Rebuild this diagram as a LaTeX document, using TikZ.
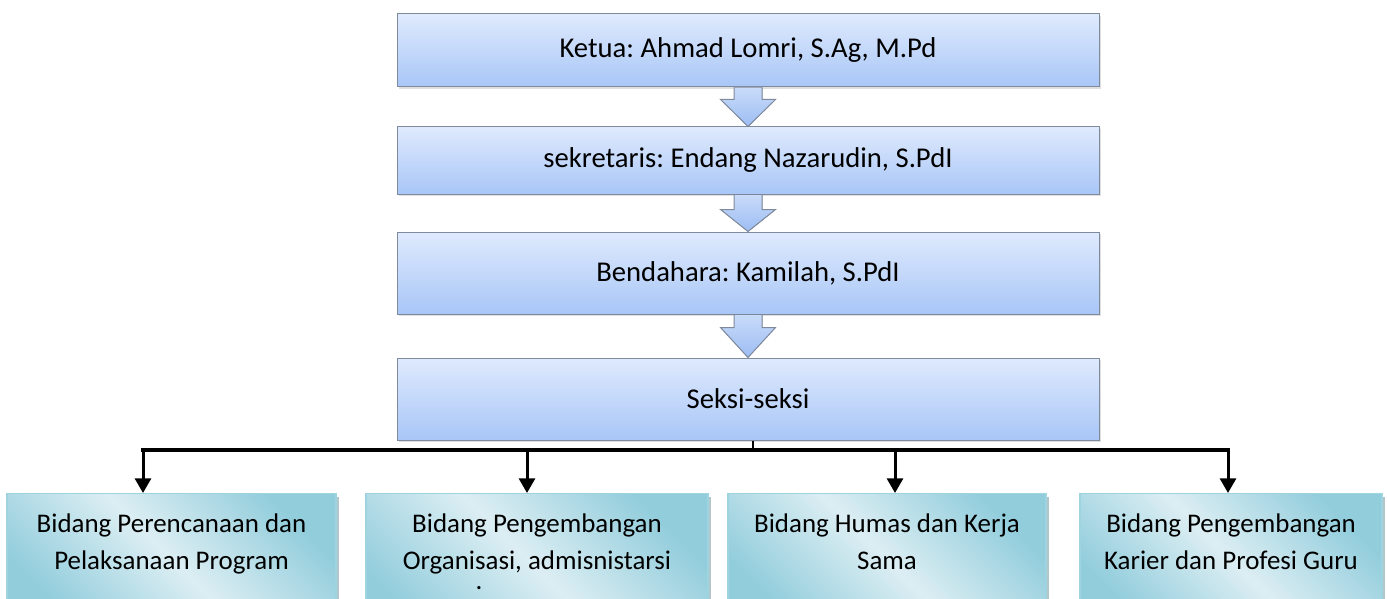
\documentclass[tikz,border=0pt]{standalone}
\usepackage{fontspec}
\setmainfont{Carlito}
\frenchspacing
\usepackage{tikz}
\usetikzlibrary{arrows.meta}
\usetikzlibrary{calc}
\usetikzlibrary{positioning}
\usetikzlibrary{shadows}

\definecolor{boxtop}{HTML}{DFEAFD}
\definecolor{boxbot}{HTML}{A8C6F7}
\definecolor{boxline}{HTML}{7F8A9C}
\definecolor{arrowtop}{HTML}{C9DBF9}
\definecolor{arrowbot}{HTML}{9DBDF4}
\definecolor{tealdark}{HTML}{92CDDC}
\definecolor{teallight}{HTML}{DCEEF3}
\definecolor{tealline}{HTML}{9ED3E0}

\tikzset{
  topfont/.style={font=\fontsize{21.5pt}{27.75pt}\selectfont},
  fieldfont/.style={font=\fontsize{20.2pt}{27.75pt}\selectfont},
  topbox/.style={draw=boxline, line width=0.75pt, top color=boxtop, bottom color=boxbot,
    minimum width=526.5pt, topfont,
    drop shadow={opacity=0.25, shadow xshift=1.5pt, shadow yshift=-1.5pt}},
  fieldbox/.style={draw=tealline, line width=1.1pt, left color=tealdark, right color=tealdark,
    middle color=teallight, shading angle=135, anchor=north, align=center,
    inner xsep=0pt, inner ysep=15pt, text depth=26pt, fieldfont,
    drop shadow={fill=tealdark!70!black, opacity=0.5, shadow xshift=2.5pt, shadow yshift=-2.5pt}},
  flowfill/.style={top color=arrowtop, bottom color=arrowbot},
  flowline/.style={draw=boxline, line width=0.75pt, line join=miter},
  busline/.style={line width=2.5pt, line cap=rect},
  stemline/.style={line width=1.2pt},
  dropline/.style={line width=2.25pt, -{Triangle[width=12pt,length=11pt]}}
}

% block arrow from the bottom of #1 to the top of #2, head length #3
\newcommand{\flowarrow}[3]{%
  \fill[flowfill] ($(#1.south)+(-14,0)$) -- ($(#2.north)+(-14,-#3)$) -- ($(#2.north)+(-27.5,-#3)$)
    -- (#2.north) -- ($(#2.north)+(27.5,-#3)$) -- ($(#2.north)+(14,-#3)$) -- ($(#1.south)+(14,0)$) -- cycle;
  \draw[flowline] ($(#1.south)+(-14,0)$) -- ($(#2.north)+(-14,-#3)$) -- ($(#2.north)+(-27.5,-#3)$)
    -- (#2.north) -- ($(#2.north)+(27.5,-#3)$) -- ($(#2.north)+(14,-#3)$) -- ($(#1.south)+(14,0)$);
}

\begin{document}
\begin{tikzpicture}[x=0.75pt, y=-0.75pt]
  \useasboundingbox (0,0) rectangle (1387,599);
  \clip (0,0) rectangle (1387,599);
  \fill[white] (0,0) rectangle (1387,599);

  % chain of officers
  \node[topbox, minimum height=54.75pt] (ketua) at (748,50.5) {Ketua: Ahmad Lomri, S.Ag, M.Pd};
  \node[topbox, minimum height=50.25pt, below=29.25pt of ketua] (sekretaris) {sekretaris: Endang Nazarudin, S.PdI};
  \node[topbox, minimum height=61.5pt, below=27.75pt of sekretaris] (bendahara) {Bendahara: Kamilah, S.PdI};
  \node[topbox, minimum height=61.5pt, below=32.25pt of bendahara] (seksi) {Seksi-seksi};

  \flowarrow{ketua}{sekretaris}{27}
  \flowarrow{sekretaris}{bendahara}{22}
  \flowarrow{bendahara}{seksi}{30}

  % sections
  \node[fieldbox, minimum width=246.75pt] (bidang1) at (171.5,493) {Bidang Perencanaan dan\\Pelaksanaan Program};
  \node[fieldbox, minimum width=256.5pt] (bidang2) at (537,493) {Bidang Pengembangan\\Organisasi, admisnistarsi\\[-12.75pt].\hspace*{87pt}};
  \node[fieldbox, minimum width=238.5pt] (bidang3) at (887,493) {Bidang Humas dan Kerja\\Sama};
  \node[fieldbox, minimum width=226.5pt] (bidang4) at (1231,493) {Bidang Pengembangan\\Karier dan Profesi Guru};

  % connectors
  \coordinate (hub) at (753,450);
  \coordinate (t1) at (143,450);
  \coordinate (t2) at (527,450);
  \coordinate (t3) at (895,450);
  \coordinate (t4) at (1228,450);
  \draw[stemline] (seksi.south -| hub) -- (hub);
  \draw[busline] (t1) -- (t4);
  \foreach \i in {1,...,4}
    \draw[dropline] (t\i) -- (t\i |- bidang\i.north);
\end{tikzpicture}
\end{document}
